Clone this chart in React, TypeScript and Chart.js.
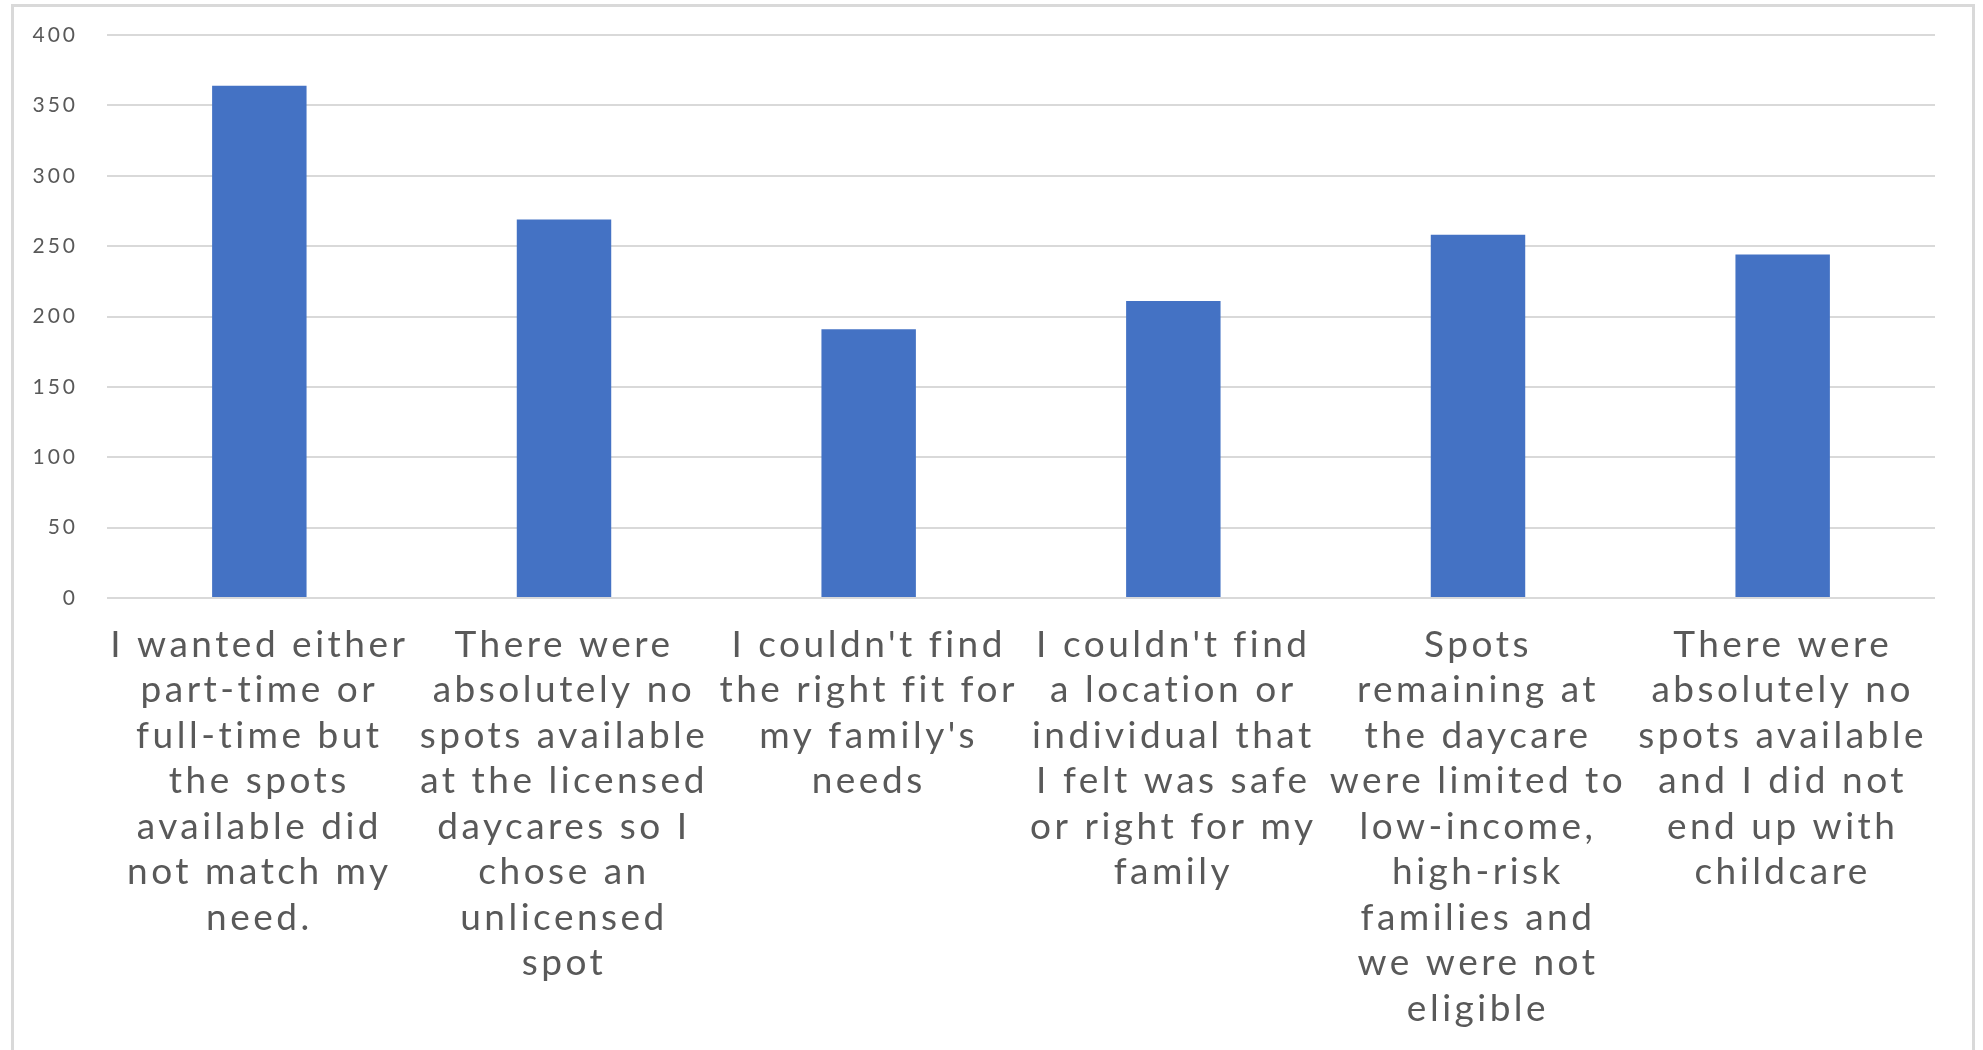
import { useEffect, useRef } from "react";
import { Chart, registerables } from "chart.js";

Chart.register(...registerables);

const categories: string[][] = [
  ["I wanted either", "part-time or", "full-time but", "the spots", "available did", "not match my", "need."],
  ["There were", "absolutely no", "spots available", "at the licensed", "daycares so I", "chose an", "unlicensed", "spot"],
  ["I couldn't find", "the right fit for", "my family's", "needs"],
  ["I couldn't find", "a location or", "individual that", "I felt was safe", "or right for my", "family"],
  ["Spots", "remaining at", "the daycare", "were limited to", "low-income,", "high-risk", "families and", "we were not", "eligible"],
  ["There were", "absolutely no", "spots available", "and I did not", "end up with", "childcare"],
];

const values: number[] = [364, 269, 191, 211, 258, 244];

const yMin = 0;
const yMax = 400;
const yStep = 50;

const W = 1983;
const H = 1050;

function withSpacing(scale: any, spacing: string) {
  if (scale.__spaced) return;
  const orig = scale.drawLabels;
  scale.drawLabels = function (area: any) {
    const ctx = this.ctx;
    ctx.save();
    (ctx as any).letterSpacing = spacing;
    orig.call(this, area);
    ctx.restore();
  };
  scale.__spaced = true;
}

export default function App() {
  const ref = useRef<HTMLCanvasElement>(null);

  useEffect(() => {
    if (!ref.current) return;
    const framePlugin = {
      id: "frame",
      beforeDraw(chart: any) {
        withSpacing(chart.scales.x, "3.5px");
        withSpacing(chart.scales.y, "3px");
        const ctx = chart.ctx;
        ctx.save();
        ctx.fillStyle = "#ffffff";
        ctx.fillRect(0, 0, W, H);
        ctx.strokeStyle = "#d9d9d9";
        ctx.lineWidth = 3;
        ctx.beginPath();
        ctx.moveTo(12.5, H + 10);
        ctx.lineTo(12.5, 5.5);
        ctx.lineTo(1973.5, 5.5);
        ctx.lineTo(1973.5, H + 10);
        ctx.stroke();
        ctx.restore();
      },
    };

    const chart = new Chart(ref.current, {
      type: "bar",
      data: {
        labels: categories,
        datasets: [
          {
            data: values,
            backgroundColor: "#4472C4",
            borderWidth: 0,
            barPercentage: 0.31,
            categoryPercentage: 1,
          },
        ],
      },
      options: {
        responsive: false,
        animation: false,
        devicePixelRatio: 1,
        layout: { padding: { left: 0, top: 35, right: 48, bottom: 0 } },
        plugins: {
          legend: { display: false },
          tooltip: { enabled: false },
          title: { display: false },
        },
        scales: {
          x: {
            grid: { display: false, drawTicks: false },
            border: { display: false },
            ticks: {
              autoSkip: false,
              maxRotation: 0,
              minRotation: 0,
              padding: 24,
              color: "#595959",
              font: { family: "Lato", size: 37, lineHeight: 1.23 },
            },
            afterFit(scale: any) {
              scale.height = H - 598;
              scale.paddingLeft = 0;
              scale.paddingRight = 0;
            },
          },
          y: {
            min: yMin,
            max: yMax,
            grid: { color: "#d9d9d9", lineWidth: 2, drawTicks: false },
            border: { display: false },
            ticks: {
              stepSize: yStep,
              padding: 29,
              color: "#595959",
              font: { family: "Lato", size: 21 },
            },
            afterFit(scale: any) {
              scale.width = 107;
              scale.paddingTop = 0;
              scale.paddingBottom = 0;
            },
          },
        },
      },
      plugins: [framePlugin],
    });
    return () => chart.destroy();
  }, []);

  return (
    <div style={{ position: "fixed", left: 0, top: 0, width: W, height: H, background: "#fff" }}>
      <canvas ref={ref} width={W} height={H} style={{ display: "block", width: W, height: H }} />
    </div>
  );
}
